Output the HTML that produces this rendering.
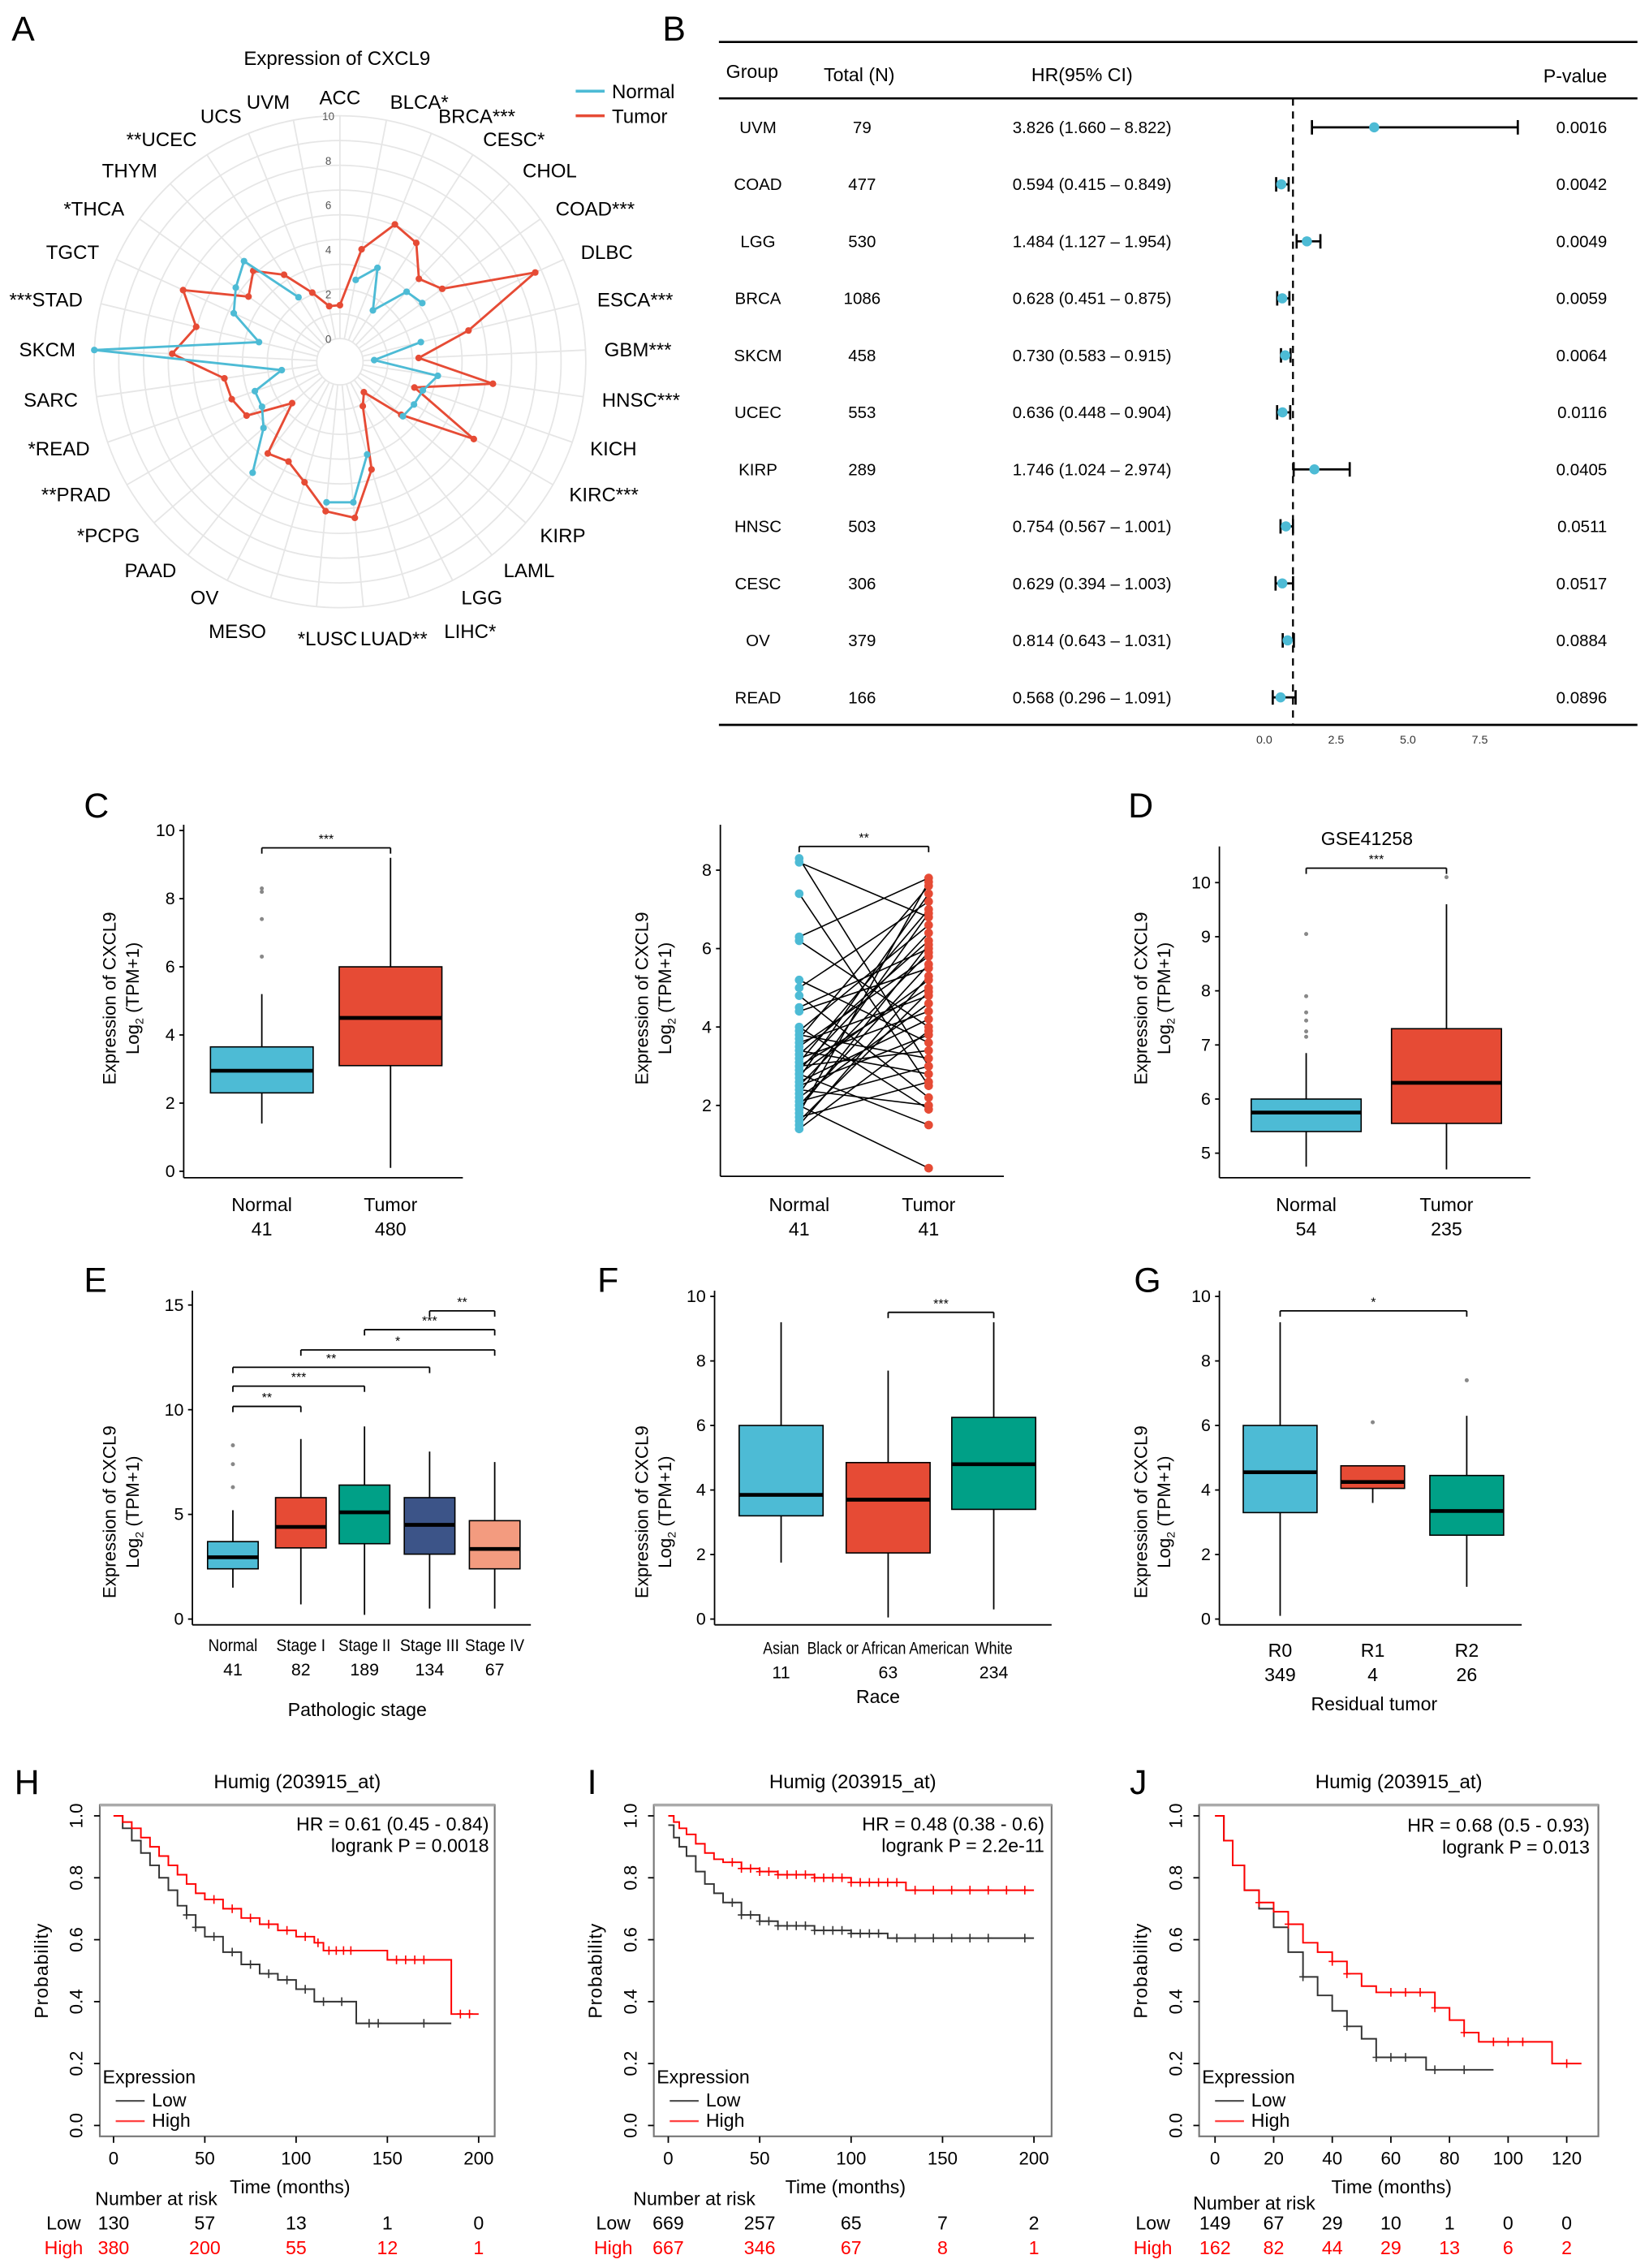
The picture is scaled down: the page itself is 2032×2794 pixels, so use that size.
<!DOCTYPE html>
<html><head><meta charset="utf-8"><style>
html,body{margin:0;padding:0;background:#fff;}
svg{display:block;font-family:"Liberation Sans",sans-serif;}
</style></head><body>
<svg id="fig" xmlns="http://www.w3.org/2000/svg" width="2032" height="2794" viewBox="0 0 1140 1567.5"></svg>
<script>
// ---------- DATA ----------
const radarCats=["ACC","BLCA*","BRCA***","CESC*","CHOL","COAD***","DLBC","ESCA***","GBM***","HNSC***","KICH","KIRC***","KIRP","LAML","LGG","LIHC*","LUAD**","*LUSC","MESO","OV","PAAD","*PCPG","**PRAD","*READ","SARC","SKCM","***STAD","TGCT","*THCA","THYM","**UCEC","UCS","UVM"];
const radarTumor=[1.5,4.1,5.6,5.3,4.1,4.6,8.6,4.9,2.5,5.9,2.5,5.9,2.6,0.7,1.2,4.0,6.0,5.7,4.6,4.0,4.2,1.8,3.8,4.1,4.2,6.5,5.6,6.7,4.0,4.6,3.6,2.3,1.5];
const radarNormal=[null,2.7,3.5,1.7,3.3,3.5,null,2.7,0.5,3.4,2.9,2.8,2.7,null,null,3.3,5.3,5.3,null,null,5.3,3.5,3.0,3.0,1.6,10.0,2.7,4.2,4.7,5.2,2.4,null,null];

const fGroups=["UVM","COAD","LGG","BRCA","SKCM","UCEC","KIRP","HNSC","CESC","OV","READ"];
const fN=[79,477,530,1086,458,553,289,503,306,379,166];
const fHR=[3.826,0.594,1.484,0.628,0.730,0.636,1.746,0.754,0.629,0.814,0.568];
const fLo=[1.660,0.415,1.127,0.451,0.583,0.448,1.024,0.567,0.394,0.643,0.296];
const fHi=[8.822,0.849,1.954,0.875,0.915,0.904,2.974,1.001,1.003,1.031,1.091];
const fP=["0.0016","0.0042","0.0049","0.0059","0.0064","0.0116","0.0405","0.0511","0.0517","0.0884","0.0896"];
const fTicks=[0,2.5,5,7.5];

const cNormal=[1.4,2.3,2.95,3.65,5.2]; const cNormalOut=[6.3,7.4,8.2,8.3];
const cTumor=[0.1,3.1,4.5,6.0,9.2]; const cTumorOut=[];
const pairN=[8.3,8.2,7.4,6.3,6.2,5.2,5.0,4.8,4.5,4.4,4.0,3.9,3.8,3.7,3.6,3.5,3.4,3.3,3.2,3.1,3.0,3.0,2.9,2.8,2.8,2.7,2.6,2.5,2.5,2.4,2.3,2.2,2.1,2.0,2.0,1.9,1.8,1.7,1.6,1.5,1.4];
const pairT=[3.0,6.8,2.5,7.8,4.0,3.6,7.2,2.2,6.0,5.5,1.9,6.6,3.2,7.6,4.8,5.8,2.8,6.2,4.4,7.0,5.0,3.4,6.4,1.5,5.2,7.4,4.2,3.8,5.9,2.0,6.9,4.6,3.0,5.6,0.4,6.1,7.7,2.6,4.9,5.3,3.9];
const dNormal=[4.75,5.4,5.75,6.0,6.85]; const dNormalOut=[7.15,7.25,7.45,7.6,7.9,9.05];
const dTumor=[4.7,5.55,6.3,7.3,9.6]; const dTumorOut=[10.1];
const eCats=["Normal","Stage I","Stage II","Stage III","Stage IV"]; const eNs=["41","82","189","134","67"];
const eStats=[[1.5,2.4,2.95,3.7,5.2],[0.7,3.4,4.4,5.8,8.6],[0.2,3.6,5.1,6.4,9.2],[0.5,3.1,4.5,5.8,8.0],[0.5,2.4,3.35,4.7,7.5]];
const eOut=[[6.3,7.4,8.3],[],[],[],[]];
const fCats=["Asian","Black or African American","White"]; const fNs=["11","63","234"];
const fStats=[[1.75,3.2,3.85,6.0,9.2],[0.05,2.05,3.7,4.85,7.7],[0.3,3.4,4.8,6.25,9.2]];
const gCats=["R0","R1","R2"]; const gNs=["349","4","26"];
const gStats=[[0.1,3.3,4.55,6.0,9.2],[3.6,4.05,4.25,4.75,4.75],[1.0,2.6,3.35,4.45,6.3]];
const gOut=[[],[6.1],[7.4]];

const hHighT=[0,5,10,15,20,25,30,35,40,45,50,60,70,80,90,100,110,115,150,185,200];
const hHighS=[1,0.98,0.96,0.93,0.9,0.87,0.84,0.81,0.78,0.75,0.73,0.70,0.67,0.65,0.63,0.61,0.59,0.565,0.535,0.36,0.36];
const hLowT=[0,5,10,15,20,25,30,35,40,45,50,60,70,80,90,100,110,133,185];
const hLowS=[1,0.96,0.92,0.88,0.84,0.80,0.76,0.71,0.68,0.64,0.61,0.56,0.52,0.49,0.47,0.44,0.40,0.33,0.33];
const iHighT=[0,3,6,10,15,20,25,30,40,50,60,80,100,130,200];
const iHighS=[1,0.98,0.96,0.94,0.91,0.88,0.86,0.85,0.83,0.82,0.81,0.80,0.785,0.76,0.76];
const iLowT=[0,3,6,10,15,20,25,30,40,50,60,80,100,120,200];
const iLowS=[0.97,0.93,0.90,0.87,0.82,0.78,0.75,0.72,0.68,0.66,0.645,0.63,0.62,0.605,0.605];
const jHighT=[0,3,6,10,15,20,25,30,35,40,45,50,55,70,75,80,85,90,115,125];
const jHighS=[1,0.92,0.84,0.76,0.72,0.69,0.65,0.59,0.56,0.53,0.49,0.45,0.43,0.43,0.38,0.34,0.30,0.27,0.20,0.20];
const jLowT=[0,3,6,10,15,20,25,30,35,40,45,50,55,72,95];
const jLowS=[1,0.92,0.84,0.76,0.70,0.64,0.56,0.48,0.42,0.37,0.32,0.28,0.22,0.18,0.18];
const hHighC=[55,65,75,85,95,105,112,118,122,126,130,155,160,165,170,190,195];
const hLowC=[40,45,55,65,75,85,95,105,115,125,140,145,170];
const iHighC=[35,40,45,50,55,60,65,70,75,80,85,90,95,100,105,110,115,120,125,135,145,155,165,175,185,195];
const iLowC=[35,40,45,50,55,60,65,70,75,80,85,90,95,100,105,110,115,125,135,145,155,165,175,195];
const jHighC=[15,25,40,45,60,65,70,75,85,95,100,105,120];
const jLowC=[30,45,55,60,65,75,85];
const hXT=[0,50,100,150,200], iXT=[0,50,100,150,200], jXT=[0,20,40,60,80,100,120];
const hRiskLow=["130","57","13","1","0"], hRiskHigh=["380","200","55","12","1"];
const iRiskLow=["669","257","65","7","2"], iRiskHigh=["667","346","67","8","1"];
const jRiskLow=["149","67","29","10","1","0","0"], jRiskHigh=["162","82","44","29","13","6","2"];
const yProbTicks=[0,0.2,0.4,0.6,0.8,1.0];

// ---------- HELPERS ----------
const NS='http://www.w3.org/2000/svg';
const svg=document.getElementById('fig');
function mk(tag,attrs,name,parent){
  const e=document.createElementNS(NS,tag);
  for(const k in attrs) e.setAttribute(k,attrs[k]);
  
  
  (parent||svg).appendChild(e); return e;
}
function tx(x,y,s,name,opts,parent){const e=mk('text',Object.assign({x:x,y:y},opts||{}),name,parent);e.textContent=s;return e;}
function grp(name){return mk('g',{},name);}
function line(g,x1,y1,x2,y2,name,st){return mk('line',Object.assign({x1:x1,y1:y1,x2:x2,y2:y2,stroke:'#000','stroke-width':1},st||{}),name,g);}
const BLUE='#4DBBD5',RED='#E64B35',TEAL='#00A087',NAVY='#3C5488',SALMON='#F39B7F';

[["A",8,28],["B",458,28],["C",58,565],["D",780,565],["E",58,893],["F",413,893],["G",784,893],["H",10,1240],["I",406,1240],["J",781,1240]].forEach(p=>tx(p[1],p[2],p[0],'panel-label-'+p[0].toLowerCase(),{'font-size':24}));

// ---------- A: radar ----------
(function(){
  const g=grp('radar-chart');
  const cx=235,cy=250; const r=v=>16+15.4*v; const n=radarCats.length;
  const ang=i=>i*2*Math.PI/n;
  const px=(i,v)=>cx+r(v)*Math.sin(ang(i)), py=(i,v)=>cy-r(v)*Math.cos(ang(i));
  for(let k=0;k<=9;k++) mk('circle',{cx:cx,cy:cy,r:16+k*154/9,fill:'none',stroke:'#e6e6e6','stroke-width':1},'radar-ring',g);
  for(let i=0;i<n;i++) line(g,px(i,0),py(i,0),px(i,10),py(i,10),'radar-spoke',{stroke:'#e6e6e6'});
  [0,2,4,6,8,10].forEach(v=>tx(cx-8,cy-r(v)+3,String(v),'radar-tick-label',{'font-size':7.5,fill:'#555','text-anchor':'middle'},g));
  let d='';radarTumor.forEach((v,i)=>{d+=(i?'L':'M')+px(i,v).toFixed(1)+' '+py(i,v).toFixed(1);});d+='Z';
  mk('path',{d:d,fill:'none',stroke:RED,'stroke-width':1.6},'tumor-line',g);
  radarTumor.forEach((v,i)=>mk('circle',{cx:px(i,v),cy:py(i,v),r:2.3,fill:RED},'tumor-point',g));
  for(let i=0;i<n-1;i++){const a=radarNormal[i],b=radarNormal[i+1];
    if(a!=null&&b!=null) line(g,px(i,a),py(i,a),px(i+1,b),py(i+1,b),'normal-line',{stroke:BLUE,'stroke-width':1.6});}
  radarNormal.forEach((v,i)=>{if(v!=null) mk('circle',{cx:px(i,v),cy:py(i,v),r:2.3,fill:BLUE},'normal-point',g);});
  const special={15:[307,441,'start'],16:[249,446,'start'],17:[247,446,'end'],18:[184,441,'end']};
  radarCats.forEach((c,i)=>{const s=Math.sin(ang(i));const R=183;
    let x=cx+R*s,y=cy-R*Math.cos(ang(i))+5,a=s>0.05?'start':(s<-0.05?'end':'middle');
    if(special[i]){x=special[i][0];y=special[i][1];a=special[i][2];}
    tx(x,y,c,'radar-category-label',{'font-size':13.5,'text-anchor':a},g);});
  tx(233,45,'Expression of CXCL9','radar-title',{'font-size':13.5,'text-anchor':'middle'},g);
  line(g,398,63,418,63,'legend-normal-swatch',{stroke:BLUE,'stroke-width':2});
  tx(423,68,'Normal','legend-normal-label',{'font-size':13.5},g);
  line(g,398,80,418,80,'legend-tumor-swatch',{stroke:RED,'stroke-width':2});
  tx(423,85,'Tumor','legend-tumor-label',{'font-size':13.5},g);
})();

// ---------- B: forest ----------
(function(){
  const g=grp('forest-plot');
  const xs=v=>874+v*19.87; const ry=i=>88+i*39.4;
  line(g,497,29,1132,29,'top-rule',{'stroke-width':1.5});
  line(g,497,68,1132,68,'header-rule',{'stroke-width':1.5});
  line(g,497,501,1132,501,'bottom-rule',{'stroke-width':1.5});
  const hs={'font-size':13,'text-anchor':'middle'};
  tx(520,54,'Group','header-group',hs,g);tx(594,56,'Total (N)','header-total',hs,g);
  tx(748,56,'HR(95% CI)','header-hr',hs,g);tx(1111,57,'P-value','header-pvalue',{'font-size':13,'text-anchor':'end'},g);
  line(g,xs(1),68,xs(1),501,'reference-line-hr1',{'stroke-dasharray':'5,4','stroke-width':1.3});
  fGroups.forEach((gr,i)=>{const y=ry(i);const fs={'font-size':11.5,'text-anchor':'middle'};
    tx(524,y+4,gr,'row-group',fs,g);tx(596,y+4,String(fN[i]),'row-n',fs,g);
    tx(700,y+4,fHR[i].toFixed(3)+' ('+fLo[i].toFixed(3)+' – '+fHi[i].toFixed(3)+')','row-hr-ci',{'font-size':11.5},g);
    tx(1111,y+4,fP[i],'row-pvalue',{'font-size':11.5,'text-anchor':'end'},g);
    line(g,xs(fLo[i]),y,xs(fHi[i]),y,'ci-bar',{'stroke-width':1.5});
    line(g,xs(fLo[i]),y-5,xs(fLo[i]),y+5,'ci-cap',{'stroke-width':1.5});
    line(g,xs(fHi[i]),y-5,xs(fHi[i]),y+5,'ci-cap',{'stroke-width':1.5});
    mk('circle',{cx:xs(fHR[i]),cy:y,r:3.5,fill:BLUE},'hr-point',g);});
  fTicks.forEach(t=>tx(xs(t),514,t.toFixed(1),'x-tick-label',{'font-size':8,'text-anchor':'middle',fill:'#333'},g));
})();

// ---------- box plots ----------
function boxplot(g,xc,w,st,ys,fill,out){
  line(g,xc,ys(st[0]),xc,ys(st[1]),'whisker');line(g,xc,ys(st[3]),xc,ys(st[4]),'whisker');
  mk('rect',{x:xc-w/2,y:ys(st[3]),width:w,height:ys(st[1])-ys(st[3]),fill:fill,stroke:'#000','stroke-width':0.9},'box',g);
  line(g,xc-w/2,ys(st[2]),xc+w/2,ys(st[2]),'median-line',{'stroke-width':2.6});
  (out||[]).forEach(v=>mk('circle',{cx:xc,cy:ys(v),r:1.4,fill:'#888'},'outlier',g));
}
function axes(g,x0,x1,ytop,ybot,ticks,ys){
  line(g,x0,ytop,x0,ybot+4,'y-axis-line');line(g,x0,ybot+4,x1,ybot+4,'x-axis-line');
  ticks.forEach(t=>{line(g,x0-3,ys(t),x0,ys(t),'y-tick');tx(x0-6,ys(t)+4,String(t),'y-tick-label',{'font-size':12,'text-anchor':'end'},g);});
}
function ytitle(g,x,yc){
  const t=mk('text',{transform:'translate('+x+','+yc+') rotate(-90)','text-anchor':'middle','font-size':12.5},'y-axis-title',g);
  t.textContent='Expression of CXCL9';
  const t2=mk('text',{transform:'translate('+(x+16)+','+yc+') rotate(-90)','text-anchor':'middle','font-size':12.5},'y-axis-subtitle',g);
  t2.innerHTML='Log<tspan font-size="8" dy="3">2</tspan><tspan dy="-3"> (TPM+1)</tspan>';
}
function bracket(g,x1,x2,y,label){
  line(g,x1,y+4,x1,y,'sig-bracket');line(g,x1,y,x2,y,'sig-bracket');line(g,x2,y,x2,y+4,'sig-bracket');
  tx((x1+x2)/2,y-3,label,'sig-label',{'font-size':9,'text-anchor':'middle'},g);
}
function xlab(g,x,y,a,b,fs,len){
  const o={'font-size':fs||13,'text-anchor':'middle'};
  if(len){o.textLength=len;o.lengthAdjust='spacingAndGlyphs';}
  tx(x,y,a,'x-category-label',o,g);
  tx(x,y+17,b,'x-count-label',{'font-size':fs||13,'text-anchor':'middle'},g);}

(function(){const g=grp('panel-c-boxplot');const ys=v=>809.5-v*23.55;
  axes(g,127,320,570,810,[0,2,4,6,8,10],ys);ytitle(g,80,690);
  boxplot(g,181,71,cNormal,ys,BLUE,cNormalOut);boxplot(g,270,71,cTumor,ys,RED,cTumorOut);
  bracket(g,181,270,586,'***');xlab(g,181,837,'Normal','41');xlab(g,270,837,'Tumor','480');})();
(function(){const g=grp('panel-c-paired');const ys=v=>764-(v-2)*27.1;
  axes(g,498,694,570,809,[2,4,6,8],ys);ytitle(g,448,690);
  pairN.forEach((v,i)=>line(g,552.5,ys(v),642,ys(pairT[i]),'pair-line',{'stroke-width':0.9}));
  pairN.forEach(v=>mk('circle',{cx:552.5,cy:ys(v),r:3,fill:BLUE},'normal-point',g));
  pairT.forEach(v=>mk('circle',{cx:642,cy:ys(v),r:3,fill:RED},'tumor-point',g));
  bracket(g,552.5,642,585,'**');xlab(g,552.5,837,'Normal','41');xlab(g,642,837,'Tumor','41');})();
(function(){const g=grp('panel-d-boxplot');const ys=v=>797-(v-5)*37.4;
  axes(g,843,1058,585,810,[5,6,7,8,9,10],ys);ytitle(g,793,690);
  tx(945,584,'GSE41258','panel-d-title',{'font-size':13,'text-anchor':'middle'},g);
  boxplot(g,903,76,dNormal,ys,BLUE,dNormalOut);boxplot(g,1000,76,dTumor,ys,RED,dTumorOut);
  bracket(g,903,1000,600,'***');xlab(g,903,837,'Normal','54');xlab(g,1000,837,'Tumor','235');})();
(function(){const g=grp('panel-e-boxplot');const ys=v=>1119-v*14.47;
  axes(g,133,367,892,1119,[0,5,10,15],ys);ytitle(g,80,1045);
  const xsE=[161,208,252,297,342];const cols=[BLUE,RED,TEAL,NAVY,SALMON];
  eStats.forEach((s,i)=>boxplot(g,xsE[i],35,s,ys,cols[i],eOut[i]));
  [[3,4,906,'**'],[2,4,919,'***'],[1,4,933,'*'],[0,3,945,'**'],[0,2,958,'***'],[0,1,972,'**']].forEach(b=>bracket(g,xsE[b[0]],xsE[b[1]],b[2],b[3]));
  const lens=[34,34,36,41,41];
  eCats.forEach((c,i)=>xlab(g,xsE[i],1141,c,eNs[i],12,lens[i]));
  tx(247,1186,'Pathologic stage','x-axis-title',{'font-size':13,'text-anchor':'middle'},g);})();
(function(){const g=grp('panel-f-boxplot');const ys=v=>1119-v*22.3;
  axes(g,494,727,892,1119,[0,2,4,6,8,10],ys);ytitle(g,448,1045);
  const xsF=[540,614,687];const cols=[BLUE,RED,TEAL];
  fStats.forEach((s,i)=>boxplot(g,xsF[i],58,s,ys,cols[i]));
  bracket(g,614,687,907,'***');
  const lens=[25,112,26];
  fCats.forEach((c,i)=>xlab(g,xsF[i],1143,c,fNs[i],12,lens[i]));
  tx(607,1177,'Race','x-axis-title',{'font-size':13,'text-anchor':'middle'},g);})();
(function(){const g=grp('panel-g-boxplot');const ys=v=>1119-v*22.3;
  axes(g,843,1052,892,1119,[0,2,4,6,8,10],ys);ytitle(g,793,1045);
  const xsG=[885,949,1014];const ws=[51,44,51];const cols=[BLUE,RED,TEAL];
  gStats.forEach((s,i)=>boxplot(g,xsG[i],ws[i],s,ys,cols[i],gOut[i]));
  bracket(g,885,1014,906,'*');
  gCats.forEach((c,i)=>xlab(g,xsG[i],1145,c,gNs[i],13));
  tx(950,1182,'Residual tumor','x-axis-title',{'font-size':13,'text-anchor':'middle'},g);})();

// ---------- KM ----------
function km(o){
  const g=grp(o.name);
  const xs=t=>o.x0+t*o.k; const ys=s=>1469-s*214;
  mk('rect',{x:o.fx0,y:1247.5,width:o.fx1-o.fx0,height:229,fill:'none',stroke:'#777','stroke-width':1.2},'plot-frame',g);
  line(g,o.fx0,1247.5,o.fx1,1247.5,'frame-top',{stroke:'#aaa','stroke-width':2});
  tx((o.fx0+o.fx1)/2,1236,'Humig (203915_at)','km-title',{'font-size':13.5,'text-anchor':'middle'},g);
  yProbTicks.forEach(v=>{line(g,o.fx0-4,ys(v),o.fx0,ys(v),'y-tick');
    mk('text',{transform:'translate('+(o.fx0-12)+','+ys(v)+') rotate(-90)','text-anchor':'middle','font-size':12.5},'y-tick-label',g).textContent=v.toFixed(1);});
  mk('text',{transform:'translate('+(o.fx0-36)+',1362) rotate(-90)','text-anchor':'middle','font-size':13,'letter-spacing':'0.5'},'y-axis-title',g).textContent='Probability';
  o.xt.forEach(t=>{line(g,xs(t),1476.6,xs(t),1481,'x-tick');tx(xs(t),1496,String(t),'x-tick-label',{'font-size':12.5,'text-anchor':'middle'},g);});
  tx((o.fx0+o.fx1)/2-5,1516,'Time (months)','x-axis-title',{'font-size':13,'text-anchor':'middle'},g);
  function curve(T,S,C,col,nm){
    let d='M'+xs(T[0])+' '+ys(S[0]);
    for(let i=1;i<T.length;i++) d+='H'+xs(T[i]).toFixed(1)+'V'+ys(S[i]).toFixed(1);
    mk('path',{d:d,fill:'none',stroke:col,'stroke-width':1.1},nm+'-curve',g);
    C.forEach(t=>{let s=S[0];for(let i=0;i<T.length;i++) if(T[i]<=t) s=S[i];
      const x=xs(t),y=ys(s);
      mk('path',{d:'M'+(x-2.5)+' '+y+'H'+(x+2.5)+'M'+x+' '+(y-3)+'V'+(y+3),stroke:col,'stroke-width':0.9},nm+'-censor-mark',g);});
  }
  curve(o.lt,o.ls,o.lc,'#333','low');curve(o.ht,o.hs,o.hc,'#f00','high');
  tx(o.hrx,o.hry,o.hr,'hr-text',{'font-size':13,'text-anchor':'end'},g);
  tx(o.hrx,o.hry+15,o.lp,'logrank-text',{'font-size':13,'text-anchor':'end'},g);
  tx(o.fx0+2,1440,'Expression','legend-title',{'font-size':13},g);
  line(g,o.fx0+11,1452,o.fx0+31,1452,'legend-low-swatch',{stroke:'#555','stroke-width':1.3});
  tx(o.fx0+36,1456,'Low','legend-low-label',{'font-size':13},g);
  line(g,o.fx0+11,1466,o.fx0+31,1466,'legend-high-swatch',{stroke:'#f44','stroke-width':1.3});
  tx(o.fx0+36,1470,'High','legend-high-label',{'font-size':13},g);
  tx(o.nrx,o.nry,'Number at risk','risk-table-title',{'font-size':13,'text-anchor':'middle'},g);
  tx(o.lowx,1541,'Low','risk-low-label',{'font-size':13,'text-anchor':'middle'},g);
  tx(o.lowx,1558,'High','risk-high-label',{'font-size':13,'text-anchor':'middle',fill:'#f00'},g);
  o.rl.forEach((v,i)=>tx(xs(o.xt[i]),1541,v,'risk-low-count',{'font-size':13,'text-anchor':'middle'},g));
  o.rh.forEach((v,i)=>tx(xs(o.xt[i]),1558,v,'risk-high-count',{'font-size':13,'text-anchor':'middle',fill:'#f00'},g));
}
km({name:'panel-h-km',fx0:69,fx1:342,x0:78.5,k:1.262,xt:hXT,ht:hHighT,hs:hHighS,hc:hHighC,lt:hLowT,ls:hLowS,lc:hLowC,hr:'HR = 0.61 (0.45 - 0.84)',lp:'logrank P = 0.0018',hrx:338,hry:1265,nrx:108,nry:1524,lowx:44,rl:hRiskLow,rh:hRiskHigh});
km({name:'panel-i-km',fx0:452,fx1:727,x0:462,k:1.264,xt:iXT,ht:iHighT,hs:iHighS,hc:iHighC,lt:iLowT,ls:iLowS,lc:iLowC,hr:'HR = 0.48 (0.38 - 0.6)',lp:'logrank P = 2.2e-11',hrx:722,hry:1265,nrx:480,nry:1524,lowx:424,rl:iRiskLow,rh:iRiskHigh});
km({name:'panel-j-km',fx0:829,fx1:1105,x0:840,k:2.026,xt:jXT,ht:jHighT,hs:jHighS,hc:jHighC,lt:jLowT,ls:jLowS,lc:jLowC,hr:'HR = 0.68 (0.5 - 0.93)',lp:'logrank P = 0.013',hrx:1099,hry:1266,nrx:867,nry:1527,lowx:797,rl:jRiskLow,rh:jRiskHigh});
</script>
</body></html>
